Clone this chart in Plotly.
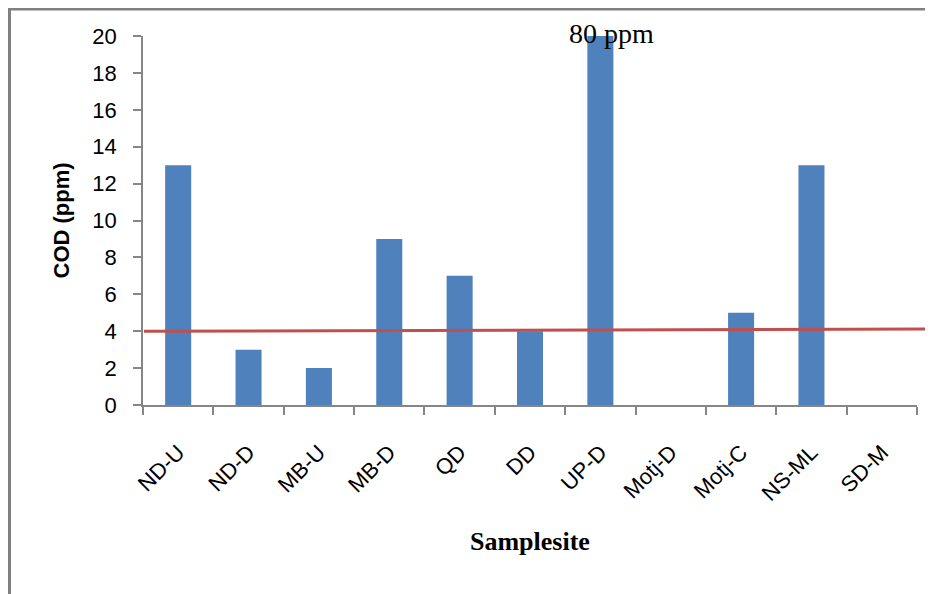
import plotly.graph_objects as go

sites = ["ND-U", "ND-D", "MB-U", "MB-D", "QD", "DD", "UP-D", "Motj-D", "Motj-C", "NS-ML", "SD-M"]
cod = [13, 3, 2, 9, 7, 4, 80, 0, 5, 13, 0]
y_ticks = [0, 2, 4, 6, 8, 10, 12, 14, 16, 18, 20]
limit_line = [4.0, 4.12]   # standard line, left and right end values
peak_label = "80 ppm"

fig = go.Figure()
fig.add_trace(go.Bar(x=sites, y=cod, marker=dict(color="#4F81BD", line=dict(width=0)),
                     showlegend=False, hoverinfo="x+y"))

fig.add_shape(type="line", xref="paper", yref="y", x0=0.0013, x1=1.0207,
              y0=limit_line[0], y1=limit_line[1], line=dict(color="#C0504D", width=3), layer="above")

# outer frame (left and top edges)
fig.add_shape(type="line", xref="paper", yref="paper", x0=-0.1725, x1=-0.1725, y0=1.0732, y1=-0.6,
              line=dict(color="#808080", width=3))
fig.add_shape(type="line", xref="paper", yref="paper", x0=-0.1745, x1=1.1, y0=1.0732, y1=1.0732,
              line=dict(color="#808080", width=3))

fig.add_annotation(text=peak_label, xref="paper", yref="paper", x=0.6053, y=1.008,
                   xanchor="center", yanchor="middle", showarrow=False,
                   font=dict(family="Liberation Serif", size=28, color="black"))
fig.add_annotation(text="<b>COD (ppm)</b>", xref="paper", yref="paper", x=-0.1047, y=0.5,
                   xanchor="center", yanchor="middle", textangle=-90, showarrow=False,
                   font=dict(family="Liberation Sans", size=22, color="black"))
fig.add_annotation(text="<b>Samplesite</b>", xref="paper", yref="paper", x=0.5, y=-0.3686,
                   xanchor="center", yanchor="middle", showarrow=False,
                   font=dict(family="Liberation Serif", size=26, color="black"))

fig.update_layout(
    width=933, height=594,
    margin=dict(l=135, r=24, t=28, b=197),
    paper_bgcolor="white", plot_bgcolor="white",
    bargap=0.63,
    xaxis=dict(type="category", range=[-0.5, 10.5], showline=True, linecolor="#868686", linewidth=1.5,
               ticks="outside", tickson="boundaries", ticklen=8, tickcolor="#868686", tickwidth=1.5,
               tickangle=-45, tickfont=dict(family="Liberation Sans", size=22, color="black"),
               showgrid=False, zeroline=False, ticklabelstandoff=24),
    yaxis=dict(range=[0, 20], tickvals=y_ticks, showline=True, linecolor="#868686", linewidth=1.5,
               ticks="outside", ticklen=8, tickcolor="#868686", tickwidth=1.5,
               tickfont=dict(family="Liberation Sans", size=22, color="black"),
               showgrid=False, zeroline=False, ticklabelstandoff=12),
)

fig.write_html("out.html")
